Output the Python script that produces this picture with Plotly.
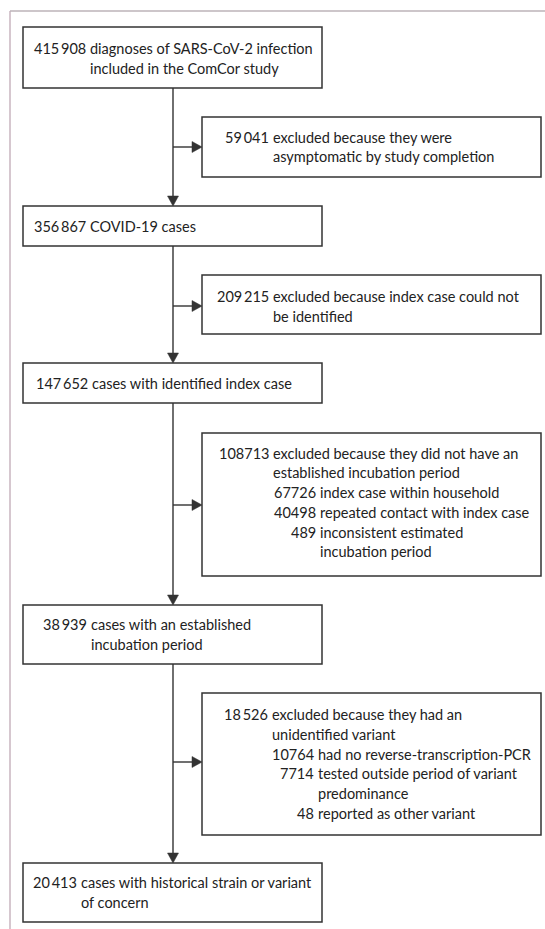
import plotly.graph_objects as go

# ---------------- data ----------------
main_counts = ["415\u2009908", "356\u2009867", "147\u2009652", "38\u2009939", "20\u2009413"]
main_labels = [
    ["diagnoses of SARS-CoV-2 infection", "included in the ComCor study"],
    ["COVID-19 cases"],
    ["cases with identified index case"],
    ["cases with an established", "incubation period"],
    ["cases with historical strain or variant", "of concern"],
]
excl_counts = ["59\u2009041", "209\u2009215", "108713", "18\u2009526"]
excl_labels = [
    ["excluded because they were", "asymptomatic by study completion"],
    ["excluded because index case could not", "be identified"],
    ["excluded because they did not have an", "established incubation period"],
    ["excluded because they had an", "unidentified variant"],
]
sub_counts = [[], [], ["67726", "40498", "489"], ["10764", "7714", "48"]]
sub_labels = [
    [],
    [],
    [["index case within household"], ["repeated contact with index case"],
     ["inconsistent estimated", "incubation period"]],
    [["had no reverse-transcription-PCR"], ["tested outside period of variant", "predominance"],
     ["reported as other variant"]],
]

# ---------------- layout (positions / styles) ----------------
W, H = 545, 929
FONT = "Lato, 'Open Sans', sans-serif"
FS = 14.5
TXT = "#222222"
LINE = "#333333"
LH = 19.7

main_x = (23, 322)
main_y = [(27, 88), (206, 246), (363, 403), (605, 664), (863, 922)]
main_col = [90, 90, 92, 91, 81]
main_off = [1, 0, 0, 0, 0]

excl_x = (202, 541)
excl_y = [(117, 177), (275, 334), (433, 576), (693, 835)]
excl_col = [273, 273, 273, 272]
excl_sub_col = [0, 0, 320, 318]
excl_off = [0, 2, -2, 0]
arrow_y = [147, 306, 505, 762]
spine_x = 173

shapes = []
annotations = []


def rect(x0, x1, y0, y1):
    shapes.append(dict(type="rect", xref="x", yref="y", x0=x0, x1=x1, y0=y0, y1=y1,
                       line=dict(color=LINE, width=1.5), fillcolor="white", layer="below"))


def seg(x0, y0, x1, y1, color=LINE, w=1.4):
    shapes.append(dict(type="line", xref="x", yref="y", x0=x0, y0=y0, x1=x1, y1=y1,
                       line=dict(color=color, width=w)))


def head_down(x, tip):
    shapes.append(dict(type="path", xref="x", yref="y",
                       path=f"M {x-5.5},{tip-10} L {x+5.5},{tip-10} L {x},{tip} Z",
                       fillcolor=LINE, line=dict(color=LINE, width=0.5)))


def head_right(tip, y):
    shapes.append(dict(type="path", xref="x", yref="y",
                       path=f"M {tip-10},{y-5.5} L {tip-10},{y+5.5} L {tip},{y} Z",
                       fillcolor=LINE, line=dict(color=LINE, width=0.5)))


def text(x, y, s, anchor):
    annotations.append(dict(x=x, y=y, xref="x", yref="y", text=s, showarrow=False,
                            xanchor=anchor, yanchor="middle", borderpad=0, borderwidth=0,
                            font=dict(family=FONT, size=FS, color=TXT)))


# outer frame (left + top)
seg(10, 11, 10, H, color="#c9b4bf", w=1.5)
seg(10, 11, W, 11, color="#bdb3b8", w=1.5)

# main boxes
for i, (cnt, lines) in enumerate(zip(main_counts, main_labels)):
    y0, y1 = main_y[i]
    rect(main_x[0], main_x[1], y0, y1)
    cy = (y0 + y1) / 2 + main_off[i]
    start = cy - (len(lines) - 1) * LH / 2
    text(main_col[i] - 4, start, cnt, "right")
    for k, ln in enumerate(lines):
        text(main_col[i], start + k * LH, ln, "left")

# exclusion boxes
for i, (cnt, lines) in enumerate(zip(excl_counts, excl_labels)):
    y0, y1 = excl_y[i]
    rect(excl_x[0], excl_x[1], y0, y1)
    all_rows = [(cnt, lines, excl_col[i])]
    for sc, sl in zip(sub_counts[i], sub_labels[i]):
        all_rows.append((sc, sl, excl_sub_col[i]))
    n = sum(len(r[1]) for r in all_rows)
    cy = (y0 + y1) / 2 + excl_off[i]
    y = cy - (n - 1) * LH / 2
    for c, ls, col in all_rows:
        text(col - 4, y, c, "right")
        for ln in ls:
            text(col, y, ln, "left")
            y += LH

# spine with arrows
for i in range(len(main_y) - 1):
    top = main_y[i][1]
    bot = main_y[i + 1][0]
    seg(spine_x, top, spine_x, bot - 9)
    head_down(spine_x, bot)

for i, ay in enumerate(arrow_y):
    seg(spine_x, ay, excl_x[0] - 9, ay)
    head_right(excl_x[0], ay)

fig = go.Figure()
fig.update_layout(
    width=W, height=H, margin=dict(l=0, r=0, t=0, b=0),
    paper_bgcolor="white", plot_bgcolor="white",
    xaxis=dict(range=[0, W], visible=False, fixedrange=True),
    yaxis=dict(range=[H, 0], visible=False, fixedrange=True),
    shapes=shapes, annotations=annotations, showlegend=False,
)
fig.write_html("out.html", config={"displayModeBar": False},
               post_script="document.body.style.margin='0';document.body.style.overflow='hidden';")
